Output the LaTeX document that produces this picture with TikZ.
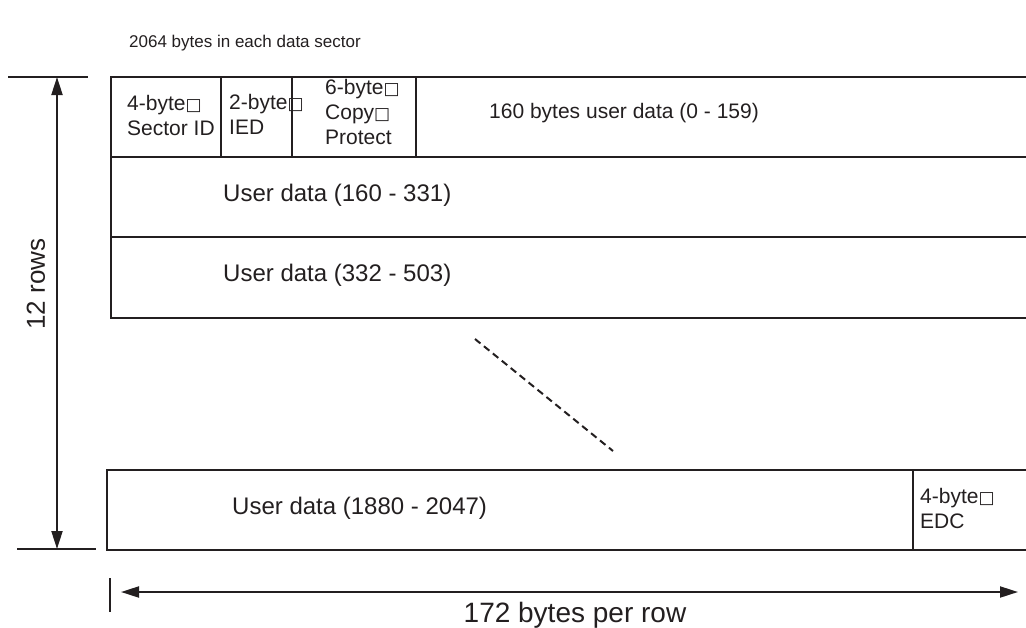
\documentclass[tikz,border=0pt]{standalone}
\usepackage{fontspec}
\setmainfont{Liberation Sans}
\newfontfamily\boxfont{DejaVu Sans}
\newcommand{\sq}{{\boxfont\fontsize{17}{17}\selectfont □}}
\usetikzlibrary{positioning,arrows.meta}
\definecolor{ink}{HTML}{231F20}
\begin{document}
\begin{tikzpicture}[x=1pt,y=-1pt,color=ink]
    \tikzset{
        cell/.style={draw, line width=2.4pt, anchor=north west, inner sep=0pt, outer sep=0pt, minimum height=80pt},
        lbl/.style={anchor=west, align=left, inner sep=0pt, font=\fontsize{21}{25}\selectfont},
        big/.style={anchor=west, inner sep=0pt, font=\fontsize{24}{28}\selectfont},
        tick/.style={line width=2pt},
        dim/.style={line width=2pt, {Triangle[length=18pt,width=11pt]}-{Triangle[length=18pt,width=11pt]}}
    }
    \useasboundingbox (0,0) rectangle (1026,627);

    \node[anchor=base west, inner sep=0pt, font=\fontsize{17}{20}\selectfont] (title) at (129,47) {2064 bytes in each data sector};

    \node[cell, minimum width=110pt] (sid) at (111,77) {};
    \node[cell, minimum width=71pt] (ied) at (sid.north east) {};
    \node[cell, minimum width=124pt] (cp) at (ied.north east) {};
    \node[cell, minimum width=624pt] (ud0) at (cp.north east) {};
    \node[cell, minimum width=929pt] (ud1) at (sid.south west) {};
    \node[cell, minimum width=929pt, minimum height=81pt] (ud2) at (ud1.south west) {};
    \node[cell, minimum width=806pt] (ud3) at (107,470) {};
    \node[cell, minimum width=127pt] (edc) at (ud3.north east) {};

    \node[lbl, right=16pt of sid.west, yshift=2pt] (sidtxt) {4-byte\sq\\Sector ID};
    \node[lbl, right=8pt of ied.west, yshift=3pt] (iedtxt) {2-byte\sq\\IED};
    \node[lbl, right=33pt of cp.west, yshift=5pt] (cptxt) {6-byte\sq\\Copy\sq\\Protect};
    \node[lbl, right=73pt of ud0.west, yshift=4pt] (ud0txt) {160 bytes user data (0 - 159)};
    \node[big, right=112pt of ud1.west, yshift=2pt] (ud1txt) {User data (160 - 331)};
    \node[big, right=112pt of ud2.west, yshift=2pt] (ud2txt) {User data (332 - 503)};
    \node[big, right=125pt of ud3.west, yshift=2pt] (ud3txt) {User data (1880 - 2047)};
    \node[lbl, right=7pt of edc.west, yshift=2pt] (edctxt) {4-byte\sq\\EDC};

    \coordinate (gap1) at (475,339);
    \coordinate (gap2) at (613,451);
    \draw[line width=2pt, dash pattern=on 7pt off 4.5pt] (gap1) -- (gap2);

    \coordinate (ht1) at (8,77);
    \coordinate (ht2) at (88,77);
    \coordinate (hb1) at (17,549);
    \coordinate (hb2) at (96,549);
    \coordinate (htop) at (57,77);
    \coordinate (hbot) at (57,549);
    \draw[tick] (ht1) -- (ht2);
    \draw[tick] (hb1) -- (hb2);
    \draw[dim] (htop) -- (hbot);
    \node[rotate=90, inner sep=0pt, font=\fontsize{26}{30}\selectfont] (rows) at (36,284) {12 rows};

    \coordinate (wt1) at (110,578);
    \coordinate (wt2) at (110,612);
    \coordinate (wl) at (121,592);
    \coordinate (wr) at (1018,592);
    \draw[line width=1.4pt] (wt1) -- (wt2);
    \draw[dim] (wl) -- (wr);
    \node[anchor=base, inner sep=0pt, font=\fontsize{28}{32}\selectfont] (width) at (575,622) {172 bytes per row};
\end{tikzpicture}
\end{document}
